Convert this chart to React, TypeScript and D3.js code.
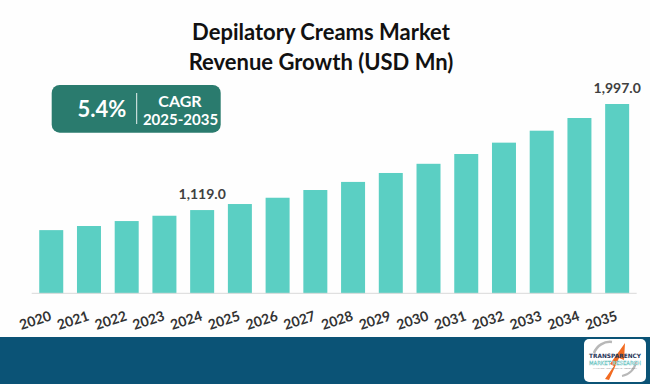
import React from 'react';
import * as d3 from 'd3';

const years = ['2020','2021','2022','2023','2024','2025','2026','2027','2028','2029','2030','2031','2032','2033','2034','2035'];
const values = [953, 987, 1028, 1072, 1119, 1169, 1221, 1285, 1352, 1426, 1502, 1583, 1677, 1776, 1881, 1997];
const labeledYears = ['2024', '2035'];
const titleLines = ['Depilatory Creams Market', 'Revenue Growth (USD Mn)'];
const cagrValue = '5.4%';
const cagrLabel = ['CAGR', '2025-2035'];
const yDomain = [430, 1997];

const W = 650, H = 384;
const FONT = 'Lato, "Open Sans", sans-serif';

export default function App() {
  const x = d3.scaleBand<string>().domain(years).range([31.7, 636.7]).paddingInner(0.364).paddingOuter(0.2);
  const y = d3.scaleLinear().domain(yDomain).range([293.3, 104]);
  const base = y(yDomain[0]);
  const fmt = d3.format(',.1f');

  return (
    <svg width={W} height={H} style={{ position: 'absolute', left: 0, top: 0, background: '#ffffff' }} fontFamily={FONT}>
      <rect x={0} y={0} width={W} height={H} fill="#fefefe" />
      {titleLines.map((t, i) => (
        <text key={t} x={321} y={39.5 + i * 30} textAnchor="middle" fontSize={22} fontWeight={700} fill="#111">{t}</text>
      ))}
      {/* CAGR box */}
      <rect x={51.7} y={85} width={169} height={47.7} rx={8} fill="#2a7b6e" />
      <line x1={136.7} x2={136.7} y1={93} y2={124} stroke="#e8f2f0" strokeWidth={1} />
      <text x={102} y={117} textAnchor="middle" fontSize={22} fontWeight={700} fill="#fff">{cagrValue}</text>
      <text x={180} y={107} textAnchor="middle" fontSize={16} fontWeight={700} fill="#fff">{cagrLabel[0]}</text>
      <text x={180.5} y={125} textAnchor="middle" fontSize={15} fontWeight={700} fill="#fff">{cagrLabel[1]}</text>
      {/* bars */}
      {years.map((yr, i) => (
        <rect key={yr} x={x(yr)} y={y(values[i])} width={x.bandwidth()} height={base - y(values[i])} fill="#5bcfc3" />
      ))}
      <line x1={31.7} x2={636.7} y1={base} y2={base} stroke="#d9d9d9" strokeWidth={1} />
      {years.map((yr, i) => labeledYears.includes(yr) ? (
        <text key={'v' + yr} x={(x(yr) as number) + x.bandwidth() / 2} y={y(values[i]) - 11} textAnchor="middle" fontSize={14} fontWeight={700} fill="#404040">{fmt(values[i])}</text>
      ) : null)}
      {years.map((yr) => {
        const cx = (x(yr) as number) + x.bandwidth() / 2 + 1;
        return (
          <text key={'x' + yr} transform={`translate(${cx},320) rotate(-18)`} textAnchor="end" fontSize={14} fontWeight={700} fill="#333">{yr}</text>
        );
      })}
      {/* footer */}
      <rect x={0} y={337} width={W} height={H - 337} fill="#0b5376" />
      <rect x={584} y={339} width={62} height={43} rx={5} fill="#ffffff" />
      <path d="M594,353 A17,17 0 0 1 612,342" fill="none" stroke="#b8b8b8" strokeWidth={2.5} />
      <path d="M636,362 A17,17 0 0 1 622,376" fill="none" stroke="#b8b8b8" strokeWidth={2} />
      <path d="M605,379 L614,366 L610,364 L625,343 L624,360 L619,358 L609,380 Z" fill="#f26b21" />
      <text x={615} y={358} textAnchor="middle" fontSize={6} fontWeight={900} fill="#1f3559" textLength={52} lengthAdjust="spacingAndGlyphs" fontFamily="'DejaVu Sans', sans-serif">TRANSPARENCY</text>
      <text x={615} y={364.5} textAnchor="middle" fontSize={5.5} fill="#ffffff" stroke="#5fc0bd" strokeWidth={0.35} textLength={52} lengthAdjust="spacingAndGlyphs" fontFamily="'DejaVu Sans', sans-serif">MARKET RESEARCH</text>
      <text x={615} y={368.5} textAnchor="middle" fontSize={2.5} fill="#888" textLength={44} lengthAdjust="spacingAndGlyphs">ANALYSIS · CONSULTING · RESEARCH</text>
    </svg>
  );
}
